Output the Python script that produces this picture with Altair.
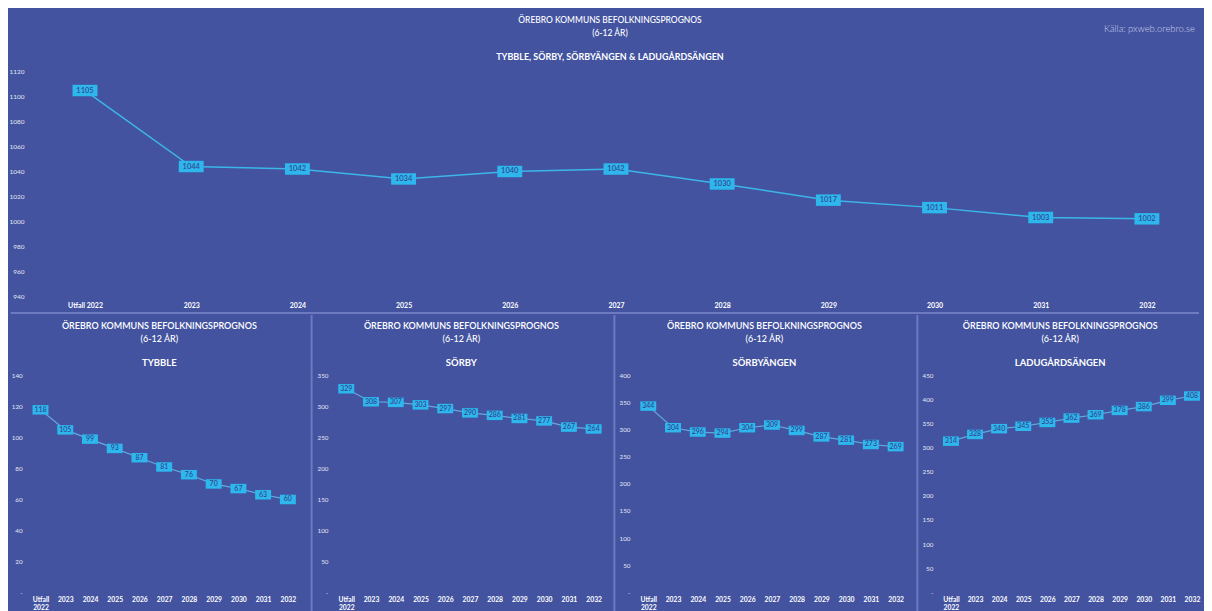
import altair as alt
import pandas as pd

# ---------------- data ----------------
years = ["Utfall 2022", "2023", "2024", "2025", "2026", "2027",
         "2028", "2029", "2030", "2031", "2032"]
total = [1105, 1044, 1042, 1034, 1040, 1042, 1030, 1017, 1011, 1003, 1002]
tybble = [118, 105, 99, 93, 87, 81, 76, 70, 67, 63, 60]
sorby = [329, 308, 307, 303, 297, 290, 286, 281, 277, 267, 264]
sorbyangen = [344, 304, 296, 294, 304, 309, 299, 287, 281, 273, 269]
ladugardsangen = [314, 328, 340, 345, 353, 362, 369, 378, 386, 399, 408]

main_title = ["ÖREBRO KOMMUNS BEFOLKNINGSPROGNOS", "(6-12 ÅR)"]
top_subtitle = "TYBBLE, SÖRBY, SÖRBYÄNGEN & LADUGÅRDSÄNGEN"
source_text = "Källa: pxweb.orebro.se"
area_names = ["TYBBLE", "SÖRBY", "SÖRBYÄNGEN", "LADUGÅRDSÄNGEN"]
area_values = [tybble, sorby, sorbyangen, ladugardsangen]
area_max = [140, 350, 400, 450]
area_step = [20, 50, 50, 50]
top_min, top_max, top_step = 940, 1120, 20

# ---------------- style ----------------
BG = "#4353a0"
BORDER = "#6d7ac0"
LINE_TOP = "#3cb6e8"
LINE_SMALL = "#62a9df"
BOX = "#2db7ec"
BOXTEXT = "#34438f"
FONT = "Lato"
WHITE = "#ffffff"
AXISCOL = "#e4e7f4"
ONE = pd.DataFrame({"k": [0]})


def label(text, x, y, size, weight, color, align="center"):
    return alt.Chart(pd.DataFrame({"t": [text]})).mark_text(
        fontSize=size, fontWeight=weight, color=color, font=FONT,
        align=align, baseline="middle"
    ).encode(text="t:N", x=alt.value(x), y=alt.value(y))


def x_axis(expr=None, size=7, pad=5):
    kw = dict(title=None, domain=False, ticks=False, grid=False, labelAngle=0,
              labelFontSize=size, labelColor=WHITE, labelFont=FONT,
              labelFontWeight=700, labelPadding=pad, labelLineHeight=8)
    if expr:
        kw["labelExpr"] = expr
    return alt.Axis(**kw)


# ---------------- top chart ----------------
TW, TH = 1172, 225
TL = 22.4
df_top = pd.DataFrame({"year": years, "value": total})
tbase = alt.Chart(df_top).encode(
    x=alt.X("year:N", sort=years, scale=alt.Scale(type="point", padding=0.5),
            axis=x_axis()),
    y=alt.Y("value:Q",
            scale=alt.Scale(domain=[top_min, top_max], nice=False, zero=False),
            axis=alt.Axis(title=None, domain=False, ticks=False, grid=False,
                          values=list(range(top_min, top_max + 1, top_step)),
                          format="d",
                          labelFontSize=6.5, labelColor=AXISCOL, labelFont=FONT,
                          labelPadding=8)),
)
t_line = tbase.mark_line(color=LINE_TOP, strokeWidth=1.5)
t_box = tbase.mark_tick(color=BOX, size=25, thickness=11.5, opacity=1)
t_text = tbase.mark_text(color=BOXTEXT, fontSize=7.5, font=FONT,
                         fontWeight=500).encode(text="value:Q")

t_sep = alt.Chart(ONE).mark_rule(color=BORDER, strokeWidth=2).encode(
    x=alt.value(-TL + 1), x2=alt.value(TW - 1), y=alt.value(TH + 17))
t_frame = alt.Chart(ONE).mark_rule(opacity=0, strokeWidth=0.01).encode(
    x=alt.value(-TL), y=alt.value(-63), y2=alt.value(TH + 17))

top = alt.layer(
    t_line, t_box, t_text,
    label(main_title[0], 580, -52, 8.5, 500, WHITE),
    label(main_title[1], 580, -39, 8.5, 500, WHITE),
    label(top_subtitle, 580, -15, 9, 700, WHITE),
    label(source_text, 1167, -43, 9.5, 300, "#c9cde6", align="right"),
    t_sep, t_frame,
).properties(width=TW, height=TH)

# ---------------- bottom panels ----------------
# all panel plot origins share the top chart's left edge alignment,
# so the first panel uses a shifted x range to start its bands further left
PH = 217
lefts = [22.4, 23.4, 22.6, 22.6]
widths = [269.2, 273, 273, 266]
ranges = [[-3.8, 269.2], [0, 273], [0, 273], [0, 266]]
rights = [8.9, 6.1, 7.4, 0]
panels = []
for i, (name, vals, vmax, vstep) in enumerate(
        zip(area_names, area_values, area_max, area_step)):
    left, PW, right = lefts[i], widths[i], rights[i]
    df = pd.DataFrame({"year": years, "value": vals})
    base = alt.Chart(df).encode(
        x=alt.X("year:N", sort=years,
                scale=alt.Scale(type="point", padding=0.5, range=ranges[i]),
                axis=x_axis("split(datum.label, ' ')", 6.8, 4)),
        y=alt.Y("value:Q", scale=alt.Scale(domain=[0, vmax], nice=False),
                axis=alt.Axis(title=None, domain=False, ticks=False, grid=False,
                              values=list(range(0, vmax + 1, vstep)),
                              labelExpr="datum.value == 0 ? '-' : datum.label",
                              labelFontSize=6.3, labelColor=AXISCOL,
                              labelFont=FONT, labelPadding=6 + (3.8 if i == 0 else 0))),
    )
    p_line = base.mark_line(color=LINE_SMALL, strokeWidth=1.2)
    p_box = base.mark_tick(color=BOX, size=16, thickness=9.5, opacity=1)
    p_text = base.mark_text(color=BOXTEXT, fontSize=7, font=FONT,
                            fontWeight=500).encode(text="value:Q")
    cx = (PW + right - left) / 2
    p_frame = alt.Chart(ONE).mark_rule(
        color=BORDER, strokeWidth=2 if i else 0.01, opacity=0 if i == 0 else 1
    ).encode(x=alt.value(-left + 1), y=alt.value(-61), y2=alt.value(PH + 40))
    p_right = alt.Chart(ONE).mark_rule(opacity=0, strokeWidth=0.01).encode(
        x=alt.value(PW + right), y=alt.value(-61), y2=alt.value(PH + 40))
    panel = alt.layer(
        p_line, p_box, p_text,
        label(main_title[0], cx, -50, 9, 600, WHITE),
        label(main_title[1], cx, -37, 9, 500, WHITE),
        label(name, cx, -13, 9.5, 700, WHITE),
        p_frame, p_right,
    ).properties(width=PW, height=PH)
    panels.append(panel)

bottom = alt.hconcat(*panels, spacing=0)

chart = alt.vconcat(top, bottom, spacing=0).properties(
    background=BG, padding=0
).configure_view(strokeWidth=0).configure_concat(spacing=0)

chart.save("out.html", embed_options={"renderer": "svg", "actions": False})
